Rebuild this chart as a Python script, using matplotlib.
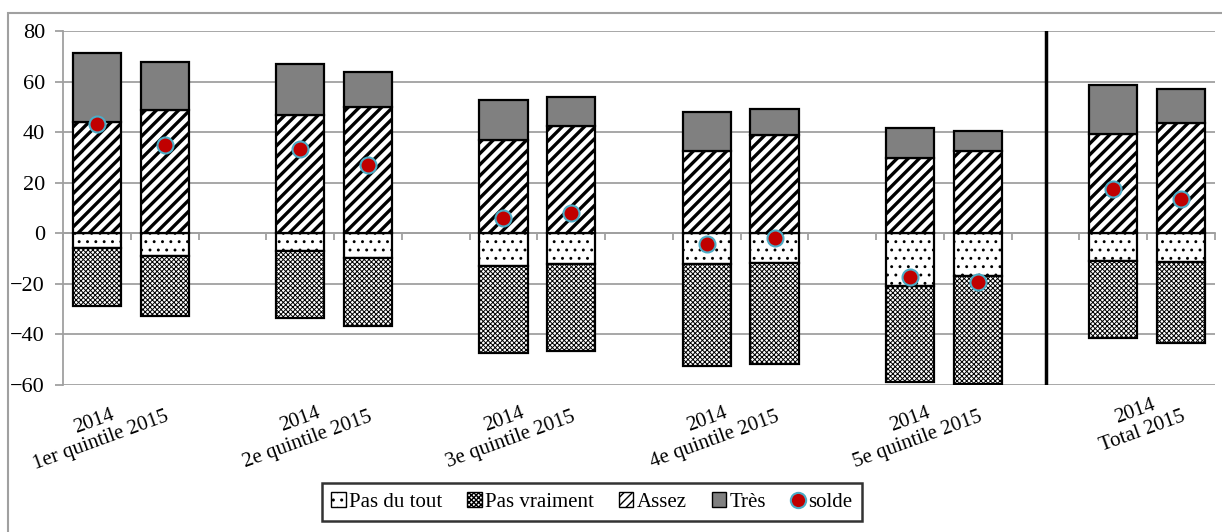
import numpy as np
import matplotlib.pyplot as plt
from matplotlib.patches import Patch, Rectangle
from matplotlib.lines import Line2D
from matplotlib.transforms import blended_transform_factory

plt.rcParams['font.family'] = ['Liberation Serif', 'DejaVu Serif']
plt.rcParams['font.size'] = 14.5

# data, one bar per group x year
groups = ['1er quintile', '2e quintile', '3e quintile', '4e quintile', '5e quintile', 'Total']
years = ['2014', '2015']

pas_du_tout = [-5.9, -8.8, -7.1, -9.9, -13.1, -12.1, -12.1, -11.9, -21.0, -17.0, -10.8, -11.5]
pas_vraiment = [-22.7, -23.8, -26.6, -26.9, -34.3, -34.4, -40.4, -39.6, -38.0, -42.8, -30.8, -31.9]
assez = [44.2, 48.6, 46.6, 49.9, 36.7, 42.4, 32.6, 38.7, 29.8, 32.6, 39.3, 43.6]
tres = [27.2, 19.0, 20.2, 13.7, 16.2, 11.5, 15.2, 10.4, 11.7, 7.8, 19.4, 13.3]
solde = [43.2, 35.1, 33.3, 27.2, 6.1, 7.9, -4.2, -2.0, -17.2, -19.4, 17.4, 13.5]

# slot positions: 2 bars per group then an empty slot
x = np.array([3 * g + y for g in range(len(groups)) for y in range(len(years))])
width = 0.71

# hatch patterns
h_pdt, h_pv, h_assez = '..', 'xxxxxxx', '///'

fig = plt.figure(figsize=(12.22, 5.32), dpi=100)
ax = fig.add_axes([63 / 1222, 1 - 385 / 532, (1215 - 63) / 1222, (385 - 31) / 532])

def set_hlw(artists, hlw):
    for a in artists:
        if hasattr(a, 'set_hatch_linewidth'):
            a.set_hatch_linewidth(hlw)

def bars(vals, bottom, hatch, face, hlw):
    bs = ax.bar(x, vals, width, bottom=bottom, color=face, edgecolor='black',
                hatch=hatch, linewidth=1.6, zorder=3)
    set_hlw(bs, hlw)
    return bs

bars(pas_du_tout, 0, h_pdt, 'white', 0.9)
bars(pas_vraiment, pas_du_tout, h_pv, 'white', 0.7)
bars(assez, 0, h_assez, 'white', 2.4)
bars(tres, assez, None, '#808080', 1.0)
ax.plot(x, solde, 'o', ls='none', ms=11.5, mfc='#C00000', mec='#4BACC6', mew=1.5, zorder=5)

# separator before the total
ax.plot([14, 14], [-60, 80], color='black', lw=2.5, zorder=4)

ax.set_xlim(-0.5, 16.5)
ax.set_ylim(-60, 80)
ax.set_yticks(np.arange(-60, 81, 20))
ax.grid(axis='y', color='#a0a0a0', lw=1.3, zorder=0)
ax.set_axisbelow(True)
for s in ['top', 'right']:
    ax.spines[s].set_visible(False)
ax.spines['left'].set_color('#a0a0a0')
ax.spines['left'].set_linewidth(1.3)
ax.spines['bottom'].set_position(('data', 0))
ax.spines['bottom'].set_color('#a0a0a0')
ax.spines['bottom'].set_linewidth(1.3)
ax.tick_params(axis='y', length=6, color='#a0a0a0', width=1.3, pad=7, labelsize=16)
ax.set_xticks(np.arange(-0.5, 17, 1))
ax.set_xticklabels([])
ax.tick_params(axis='x', length=5, color='#a0a0a0', width=1.3, direction='out')

trans = blended_transform_factory(ax.transData, ax.transAxes)
for g, name in enumerate(groups):
    ax.text(3 * g + 1 - 0.1, -0.008, years[0] + '\n' + name + ' ' + years[1],
            transform=trans, ha='right', va='top', rotation=20,
            rotation_mode='anchor', multialignment='center', linespacing=1.15,
            fontsize=15)

handles = [
    Patch(facecolor='white', edgecolor='black', hatch=h_pdt, label='Pas du tout'),
    Patch(facecolor='white', edgecolor='black', hatch=h_pv, label='Pas vraiment'),
    Patch(facecolor='white', edgecolor='black', hatch='////', label='Assez'),
    Patch(facecolor='#808080', edgecolor='black', label='Très'),
    Line2D([], [], marker='o', ls='none', ms=11, mfc='#C00000', mec='#4BACC6', mew=1.5, label='solde'),
]
leg = fig.legend(handles=handles, loc='center', bbox_to_anchor=(592 / 1222, 1 - 502 / 532),
                 ncol=5, frameon=True, fancybox=False, edgecolor='black',
                 handlelength=0.7, handleheight=0.7, handletextpad=0.15,
                 columnspacing=1.2, borderpad=0.45, fontsize=15)
leg.get_frame().set_linewidth(1.8)

fig.patches.append(Rectangle((8 / 1222, -0.05), 1.1, 1 - 13 / 532 + 0.05,
                             transform=fig.transFigure, fill=False,
                             edgecolor='#a0a0a0', lw=1.5))

fig.savefig('out.png', dpi=100)
